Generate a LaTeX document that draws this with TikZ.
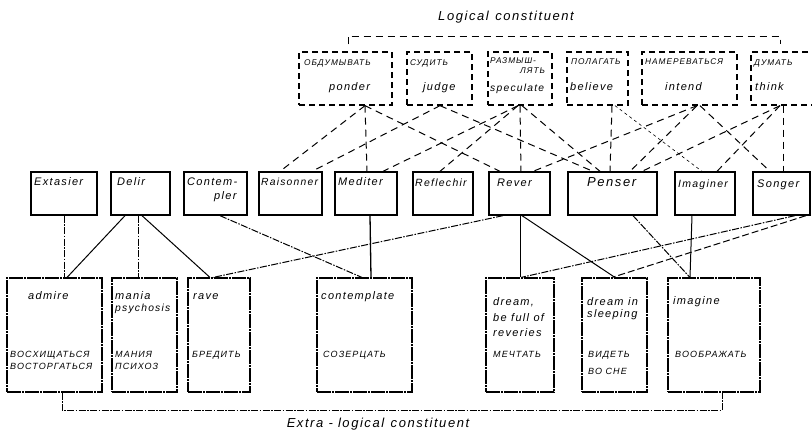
\documentclass[tikz,border=0pt]{standalone}
\usepackage{fontspec}
\newfontfamily\hand[LetterSpace=12]{Liberation Sans}

\tikzset{
  logbox/.style={draw, dash pattern=on 6pt off 4pt, line width=1.3pt, minimum height=53pt, inner sep=0pt},
  wordbox/.style={draw, line width=1.3pt, minimum height=43pt, inner sep=0pt},
  extbox/.style={draw, line width=1.1pt, dash pattern=on 14pt off 1pt on 2pt off 1pt, minimum height=114pt, inner sep=0pt},
  en/.style={font=\hand\itshape\fontsize{11}{12}\selectfont, inner sep=0pt, anchor=mid west},
  ru/.style={font=\hand\itshape\fontsize{8.3}{9}\selectfont, inner sep=0pt, anchor=mid west},
  rubig/.style={font=\hand\itshape\fontsize{9}{10}\selectfont, inner sep=0pt, anchor=mid west},
  title/.style={font=\hand\itshape\fontsize{13}{14}\selectfont, inner sep=0pt},
  logline/.style={line width=1pt, dash pattern=on 7pt off 5pt},
  extline/.style={line width=1pt},
  dotline/.style={line width=1pt, dash pattern=on 7pt off 1.5pt on 1.5pt off 1.5pt},
}

\begin{document}
\begin{tikzpicture}[x=1pt, y=-1pt]
  \useasboundingbox (0,0) rectangle (812,432);
  \fill[white] (0,0) rectangle (812,432);

  % logical constituent
  \node[logbox, minimum width=93pt] (ponder) at (345.5,78.5) {};
  \node[logbox, minimum width=65pt] (judge) at (439.5,78.5) {};
  \node[logbox, minimum width=64pt] (speculate) at (520,78.5) {};
  \node[logbox, minimum width=61pt] (believe) at (597.5,78.5) {};
  \node[logbox, minimum width=95pt] (intend) at (689.5,78.5) {};
  \node[logbox, minimum width=67pt] (think) at (784.5,78.5) {};

  \node[ru] (ponder-ru) at (304,63) {ОБДУМЫВАТЬ};
  \node[en] (ponder-en) at (329,88) {ponder};
  \node[ru] (judge-ru) at (410,63) {СУДИТЬ};
  \node[en] (judge-en) at (423,88) {judge};
  \node[ru] (speculate-ru1) at (490,61) {РАЗМЫШ-};
  \node[ru] (speculate-ru2) at (520,71) {ЛЯТЬ};
  \node[en, font=\hand\itshape\fontsize{10.3}{11}\selectfont] (speculate-en) at (490,89) {speculate};
  \node[ru] (believe-ru) at (571,62) {ПОЛАГАТЬ};
  \node[en] (believe-en) at (570,88) {believe};
  \node[ru] (intend-ru) at (645,62) {НАМЕРЕВАТЬСЯ};
  \node[en] (intend-en) at (665,88) {intend};
  \node[ru] (think-ru) at (754,63) {ДУМАТЬ};
  \node[en] (think-en) at (755,88) {think};

  \coordinate (logic) at (564,36);
  \draw[logline] ([xshift=2.5pt,yshift=7pt]ponder.north) |- (logic) -| ([xshift=-4.5pt,yshift=7pt]think.north);
  \node[title] (logic-title) at (506,17) {Logical\enspace constituent};

  % french verbs
  \node[wordbox, minimum width=66pt] (extasier) at (64,193.5) {};
  \node[wordbox, minimum width=59pt] (delir) at (140.5,193.5) {};
  \node[wordbox, minimum width=63pt] (contempler) at (215.5,193.5) {};
  \node[wordbox, minimum width=63pt] (raisonner) at (290.5,193.5) {};
  \node[wordbox, minimum width=62pt] (mediter) at (366,193.5) {};
  \node[wordbox, minimum width=60pt] (reflechir) at (443,193.5) {};
  \node[wordbox, minimum width=61pt] (rever) at (519.5,193.5) {};
  \node[wordbox, minimum width=89pt] (penser) at (612.5,193.5) {};
  \node[wordbox, minimum width=60pt] (imaginer) at (705,193.5) {};
  \node[wordbox, minimum width=57pt] (songer) at (781.5,193.5) {};

  \node[en] (extasier-t) at (34,183) {Extasier};
  \node[en] (delir-t) at (117,183) {Delir};
  \node[en] (contempler-t1) at (187,183) {Contem-};
  \node[en] (contempler-t2) at (214,197) {pler};
  \node[en, font=\hand\itshape\fontsize{10.3}{11}\selectfont] (raisonner-t) at (261,183) {Raisonner};
  \node[en] (mediter-t) at (338,183) {Mediter};
  \node[en, font=\hand\itshape\fontsize{10.5}{11}\selectfont] (reflechir-t) at (415,184) {Reflechir};
  \node[en] (rever-t) at (497,184) {Rever};
  \node[en, font=\hand\itshape\fontsize{13}{14}\selectfont] (penser-t) at (587,184) {Penser};
  \node[en, font=\hand\itshape\fontsize{10.5}{11}\selectfont] (imaginer-t) at (678,185) {Imaginer};
  \node[en] (songer-t) at (757,185) {Songer};

  % extra-logical constituent
  \node[extbox, minimum width=95pt] (admire) at (54.5,335) {};
  \node[extbox, minimum width=65pt] (mania) at (144.5,335) {};
  \node[extbox, minimum width=62pt] (rave) at (219,335) {};
  \node[extbox, minimum width=95pt] (contemplate) at (364.5,335) {};
  \node[extbox, minimum width=68pt] (dream) at (520,335) {};
  \node[extbox, minimum width=65pt] (sleeping) at (614.5,335) {};
  \node[extbox, minimum width=92pt] (imagine) at (714,335) {};

  \node[en] (admire-en) at (28,297) {admire};
  \node[rubig] (admire-ru1) at (10,355) {ВОСХИЩАТЬСЯ};
  \node[rubig] (admire-ru2) at (10,367) {ВОСТОРГАТЬСЯ};
  \node[en] (mania-en1) at (115,297) {mania};
  \node[en, font=\hand\itshape\fontsize{10.3}{11}\selectfont] (mania-en2) at (115,309) {psychosis};
  \node[rubig] (mania-ru1) at (115,355) {МАНИЯ};
  \node[rubig] (mania-ru2) at (115,367) {ПСИХОЗ};
  \node[en] (rave-en) at (193,297) {rave};
  \node[rubig] (rave-ru) at (192,355) {БРЕДИТЬ};
  \node[en] (contemplate-en) at (321,297) {contemplate};
  \node[rubig] (contemplate-ru) at (323,355) {СОЗЕРЦАТЬ};
  \node[en] (dream-en1) at (493,303) {dream,};
  \node[en] (dream-en2) at (493,319) {be full of};
  \node[en] (dream-en3) at (493,334) {reveries};
  \node[rubig] (dream-ru) at (493,355) {МЕЧТАТЬ};
  \node[en] (sleeping-en1) at (587,303) {dream in};
  \node[en] (sleeping-en2) at (587,315) {sleeping};
  \node[rubig] (sleeping-ru1) at (588,355) {ВИДЕТЬ};
  \node[rubig] (sleeping-ru2) at (588,372) {ВО СНЕ};
  \node[en] (imagine-en) at (673,302) {imagine};
  \node[rubig] (imagine-ru) at (675,355) {ВООБРАЖАТЬ};

  \draw[dotline] ([xshift=7.5pt]admire.south) -- ++(0,18) -| ([xshift=8pt]imagine.south);
  \node[title] (extra-title) at (378,424) {Extra - logical\enspace constituent};

  % logical links
  \draw[logline] ([xshift=19.5pt]ponder.south) -- ([xshift=-10.5pt]raisonner.north);
  \draw[logline] ([xshift=19.5pt]ponder.south) -- ([xshift=1pt]mediter.north);
  \draw[logline] ([xshift=19.5pt]ponder.south) -- ([xshift=-19.5pt]rever.north);
  \draw[logline] ([xshift=0.5pt]judge.south) -- ([xshift=21.5pt]raisonner.north);
  \draw[logline] ([xshift=0.5pt]judge.south) -- ([xshift=-19.5pt]penser.north);
  \draw[logline] ([xshift=-2pt]speculate.south) -- ([xshift=17pt]mediter.north);
  \draw[logline] ([xshift=-2pt]speculate.south) -- ([xshift=-3pt]reflechir.north);
  \draw[logline] (speculate.south) -- ([xshift=1.5pt]rever.north);
  \draw[logline] ([xshift=2pt]speculate.south) -- ([xshift=-12.5pt]penser.north);
  \draw[logline] ([xshift=14.5pt]believe.south) -- ([xshift=-2.5pt]penser.north);
  \draw[logline, line width=0.6pt, dash pattern=on 3pt off 3pt] ([xshift=17.5pt]believe.south) -- ([xshift=-3pt]imaginer.north);
  \draw[logline] ([xshift=7.5pt]intend.south) -- ([xshift=13.5pt]rever.north);
  \draw[logline] ([xshift=7.5pt]intend.south) -- ([xshift=17.5pt]penser.north);
  \draw[logline] ([xshift=10.5pt]intend.south) -- ([xshift=-11.5pt]songer.north);
  \draw[logline] ([xshift=-4.5pt]think.south) -- ([xshift=29.5pt]penser.north);
  \draw[logline] ([xshift=-4.5pt]think.south) -- ([xshift=12pt]imaginer.north);
  \draw[logline] ([xshift=-1.5pt]think.south) -- ([xshift=1.5pt]songer.north);

  % extra-logical links
  \draw[dotline] (extasier.south) -- ([xshift=9.5pt]admire.north);
  \draw[extline] ([xshift=-15.5pt]delir.south) -- ([xshift=12.5pt]admire.north);
  \draw[dotline] ([xshift=-2.5pt]delir.south) -- ([xshift=-6.5pt]mania.north);
  \draw[extline] ([xshift=1.5pt]delir.south) -- ([xshift=-9pt]rave.north);
  \draw[dotline] ([xshift=4.5pt]contempler.south) -- ([xshift=-2.5pt]contemplate.north);
  \draw[extline, line width=1.3pt] ([xshift=4pt]mediter.south) -- ([xshift=6.5pt]contemplate.north);
  \draw[dotline] ([xshift=-16.5pt]rever.south) -- ([xshift=-6pt]rave.north);
  \draw[extline] ([xshift=0.5pt]rever.south) -- (dream.north);
  \draw[extline] ([xshift=2.5pt]rever.south) -- ([xshift=0.5pt]sleeping.north);
  \draw[dotline] ([xshift=13.5pt]songer.south) -- ([xshift=1pt]dream.north);
  \draw[extline, dash pattern=on 7pt off 3pt] ([xshift=24.5pt]songer.south) -- ([xshift=-2.5pt]sleeping.north);
  \draw[dotline] ([xshift=20.5pt]penser.south) -- ([xshift=-24pt]imagine.north);
  \draw[extline] ([xshift=-13pt]imaginer.south) -- ([xshift=-24pt]imagine.north);
\end{tikzpicture}
\end{document}
